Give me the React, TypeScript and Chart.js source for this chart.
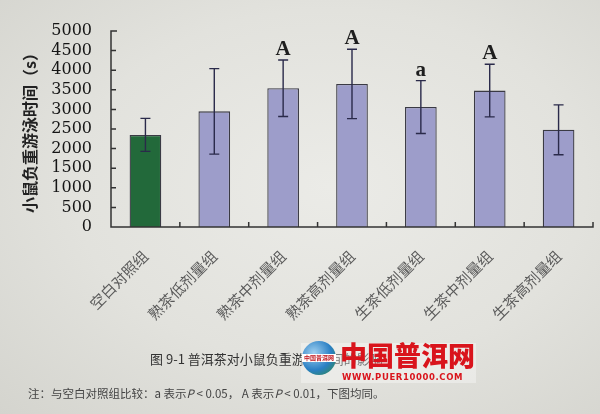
import { useEffect, useRef } from "react";
import { Chart, registerables } from "chart.js";

Chart.register(...registerables);

// groups and measured weight-loaded swimming time (s), mean and SD
const groups = [
  "空白对照组",
  "熟茶低剂量组",
  "熟茶中剂量组",
  "熟茶高剂量组",
  "生茶低剂量组",
  "生茶中剂量组",
  "生茶高剂量组",
];
const swimTime = [2350, 2950, 3540, 3650, 3060, 3480, 2480];
const swimSd = [420, 1090, 720, 885, 675, 670, 635];
const sigMarks = ["", "", "A", "A", "a", "A", ""];
const yTicks = [0, 500, 1000, 1500, 2000, 2500, 3000, 3500, 4000, 4500, 5000];

const errorBarPlugin = {
  id: "errorBars",
  afterDatasetsDraw(chart: any) {
    const { ctx } = chart;
    const y = chart.scales.y;
    const meta = chart.getDatasetMeta(0);
    ctx.save();
    meta.data.forEach((bar: any, i: number) => {
      const hi = y.getPixelForValue(swimTime[i] + swimSd[i]);
      const lo = y.getPixelForValue(swimTime[i] - swimSd[i]);
      ctx.strokeStyle = "#2a2a4a";
      ctx.lineWidth = 1.4;
      ctx.beginPath();
      ctx.moveTo(bar.x, hi);
      ctx.lineTo(bar.x, lo);
      ctx.moveTo(bar.x - 5, hi);
      ctx.lineTo(bar.x + 5, hi);
      ctx.moveTo(bar.x - 5, lo);
      ctx.lineTo(bar.x + 5, lo);
      ctx.stroke();
      if (sigMarks[i]) {
        ctx.fillStyle = "#1e1e1e";
        ctx.font = "bold 21px 'Liberation Serif'";
        ctx.textAlign = "center";
        ctx.textBaseline = "alphabetic";
        ctx.fillText(sigMarks[i], bar.x, hi - 5);
      }
    });
    ctx.restore();
  },
};

// axes with ticks pointing inward, as in the printed figure
const axesPlugin = {
  id: "inwardAxes",
  afterDraw(chart: any) {
    const { ctx, chartArea } = chart;
    const { left, right, top, bottom } = chartArea;
    const x = chart.scales.x;
    const y = chart.scales.y;
    ctx.save();
    ctx.strokeStyle = "#333";
    ctx.lineWidth = 1.5;
    ctx.beginPath();
    ctx.moveTo(left + 6, top);
    ctx.lineTo(left, top);
    ctx.lineTo(left, bottom);
    ctx.lineTo(right, bottom);
    ctx.lineTo(right, bottom - 5);
    yTicks.forEach((v) => {
      const py = y.getPixelForValue(v);
      ctx.moveTo(left, py);
      ctx.lineTo(left + 5, py);
    });
    for (let i = 1; i < groups.length; i++) {
      const px = (x.getPixelForValue(i - 1) + x.getPixelForValue(i)) / 2;
      ctx.moveTo(px, bottom);
      ctx.lineTo(px, bottom - 5);
    }
    ctx.stroke();
    ctx.restore();
  },
};

export default function App() {
  const chartRef = useRef<HTMLCanvasElement>(null);
  const chartInstance = useRef<Chart | null>(null);

  useEffect(() => {
    document.body.style.margin = "0";
    if (!chartRef.current) return;
    if (chartInstance.current) chartInstance.current.destroy();

    chartInstance.current = new Chart(chartRef.current, {
      type: "bar",
      data: {
        labels: groups,
        datasets: [
          {
            data: swimTime,
            backgroundColor: groups.map((_, i) => (i === 0 ? "#22693a" : "#9d9dca")),
            borderColor: "#3a3a44",
            borderWidth: 1.3,
            barPercentage: 0.46,
            categoryPercentage: 1,
          },
        ],
      },
      options: {
        responsive: true,
        maintainAspectRatio: false,
        animation: false,
        layout: { padding: { top: 31, right: 7, left: 0, bottom: 0 } },
        plugins: {
          legend: { display: false },
          tooltip: { enabled: false },
        },
        scales: {
          x: {
            afterFit: (scale: any) => {
              scale.height = 187;
            },
            grid: { display: false, drawTicks: false },
            border: { display: false },
            ticks: {
              minRotation: 45,
              maxRotation: 45,
              padding: 20,
              color: "#5a5a5a",
              font: { family: "'Noto Sans CJK SC'", size: 15 },
            },
          },
          y: {
            min: 0,
            max: 5000,
            afterFit: (scale: any) => {
              scale.width = 111;
            },
            afterBuildTicks: (scale: any) => {
              scale.ticks = yTicks.map((v) => ({ value: v }));
            },
            grid: { display: false, drawTicks: false },
            border: { display: false },
            ticks: {
              autoSkip: false,
              padding: 19,
              color: "#151515",
              callback: (v: any) => String(v),
              font: { family: "'DejaVu Serif'", size: 16 },
            },
            title: {
              display: true,
              text: "小鼠负重游泳时间（s）",
              color: "#222",
              padding: { top: 20, bottom: 0 },
              font: { family: "'Noto Sans CJK SC'", size: 16, weight: "bold" },
            },
          },
        },
      },
      plugins: [errorBarPlugin, axesPlugin],
    });

    return () => {
      if (chartInstance.current) {
        chartInstance.current.destroy();
        chartInstance.current = null;
      }
    };
  }, []);

  return (
    <div
      style={{
        position: "fixed",
        left: 0,
        top: 0,
        width: 600,
        height: 414,
        background: "radial-gradient(ellipse at 55% 45%, #ebebe7 0%, #e2e2dd 55%, #d4d4ce 100%)",
        overflow: "hidden",
      }}
    >
      <div style={{ position: "absolute", left: 0, top: 0, width: 600, height: 414 }}>
        <canvas ref={chartRef}></canvas>
      </div>
      <div
        style={{
          position: "absolute",
          left: 150,
          top: 349,
          fontFamily: "'Noto Sans CJK SC'",
          fontSize: 13,
          color: "#333",
          whiteSpace: "nowrap",
        }}
      >
        图 9-1 普洱茶对小鼠负重游泳时间的影响
      </div>
      <div
        style={{
          position: "absolute",
          left: 28,
          top: 385,
          fontFamily: "'Noto Sans CJK SC'",
          fontSize: 11.5,
          color: "#444",
          whiteSpace: "nowrap",
        }}
      >
        注：与空白对照组比较：a 表示<i>P</i> &lt; 0.05， A 表示<i>P</i> &lt; 0.01，下图均同。
      </div>
      <div
        style={{
          position: "absolute",
          left: 301,
          top: 343,
          width: 175,
          height: 40,
          background: "rgba(255,255,255,0.35)",
        }}
      >
        <div
          style={{
            position: "absolute",
            left: 1,
            top: -2,
            width: 34,
            height: 34,
            borderRadius: "50%",
            background: "radial-gradient(circle at 35% 35%, #9fd0f0 0%, #2a7fc4 55%, #2f8a3a 100%)",
          }}
        >
          <div
            style={{
              position: "absolute",
              left: 0,
              top: 13,
              width: 34,
              textAlign: "center",
              fontFamily: "'Noto Sans CJK SC'",
              fontWeight: "bold",
              fontSize: 6,
              color: "#c0141c",
              background: "#fff",
              lineHeight: "8px",
            }}
          >
            中国普洱网
          </div>
        </div>
        <div
          style={{
            position: "absolute",
            left: 39,
            top: -6,
            fontFamily: "'Noto Sans CJK SC'",
            fontWeight: 900,
            fontSize: 27,
            color: "#d9141c",
            whiteSpace: "nowrap",
            lineHeight: "36px",
          }}
        >
          中国普洱网
        </div>
        <div
          style={{
            position: "absolute",
            left: 41,
            top: 29,
            fontFamily: "'DejaVu Sans'",
            fontWeight: "bold",
            fontSize: 8.5,
            color: "#d9141c",
            whiteSpace: "nowrap",
            letterSpacing: 0.6,
          }}
        >
          WWW.PUER10000.COM
        </div>
      </div>
    </div>
  );
}
